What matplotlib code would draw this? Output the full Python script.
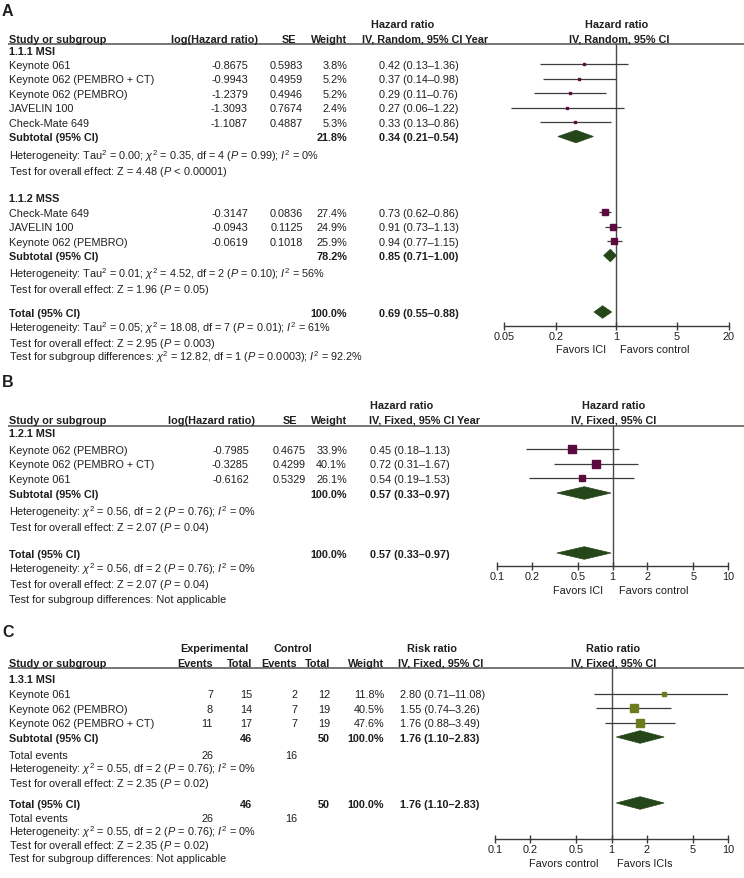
import matplotlib
matplotlib.use("Agg")
import matplotlib.pyplot as plt
from matplotlib.patches import Polygon
import numpy as np

plt.rcParams['font.family'] = ['Liberation Sans', 'DejaVu Sans']
plt.rcParams['mathtext.fontset'] = 'custom'
plt.rcParams['mathtext.rm'] = 'Liberation Sans'
plt.rcParams['mathtext.it'] = 'Liberation Sans:italic'
plt.rcParams['mathtext.bf'] = 'Liberation Sans:bold'

# ---------------- DATA ----------------
# Panel A
a_msi_studies = ["Keynote 061", "Keynote 062 (PEMBRO + CT)", "Keynote 062 (PEMBRO)", "JAVELIN 100", "Check-Mate 649"]
a_msi_loghr = [-0.8675, -0.9943, -1.2379, -1.3093, -1.1087]
a_msi_se = [0.5983, 0.4959, 0.4946, 0.7674, 0.4887]
a_msi_weight = [3.8, 5.2, 5.2, 2.4, 5.3]
a_msi_hr = [0.42, 0.37, 0.29, 0.27, 0.33]
a_msi_lo = [0.13, 0.14, 0.11, 0.06, 0.13]
a_msi_hi = [1.36, 0.98, 0.76, 1.22, 0.86]
a_msi_sub = [0.34, 0.21, 0.54]
a_msi_sub_weight = 21.8

a_mss_studies = ["Check-Mate 649", "JAVELIN 100", "Keynote 062 (PEMBRO)"]
a_mss_loghr = [-0.3147, -0.0943, -0.0619]
a_mss_se = [0.0836, 0.1125, 0.1018]
a_mss_weight = [27.4, 24.9, 25.9]
a_mss_hr = [0.73, 0.91, 0.94]
a_mss_lo = [0.62, 0.73, 0.77]
a_mss_hi = [0.86, 1.13, 1.15]
a_mss_sub = [0.85, 0.71, 1.00]
a_mss_sub_weight = 78.2
a_total = [0.69, 0.55, 0.88]
a_total_weight = 100.0
a_ticks = [0.05, 0.2, 1, 5, 20]
a_ticklabels = ["0.05", "0.2", "1", "5", "20"]

# Panel B
b_studies = ["Keynote 062 (PEMBRO)", "Keynote 062 (PEMBRO + CT)", "Keynote 061"]
b_loghr = [-0.7985, -0.3285, -0.6162]
b_se = [0.4675, 0.4299, 0.5329]
b_weight = [33.9, 40.1, 26.1]
b_hr = [0.45, 0.72, 0.54]
b_lo = [0.18, 0.31, 0.19]
b_hi = [1.13, 1.67, 1.53]
b_sub = [0.57, 0.33, 0.97]
b_total = [0.57, 0.33, 0.97]
b_ticks = [0.1, 0.2, 0.5, 1, 2, 5, 10]
b_ticklabels = ["0.1", "0.2", "0.5", "1", "2", "5", "10"]

# Panel C
c_studies = ["Keynote 061", "Keynote 062 (PEMBRO)", "Keynote 062 (PEMBRO + CT)"]
c_exp_events = [7, 8, 11]
c_exp_total = [15, 14, 17]
c_ctl_events = [2, 7, 7]
c_ctl_total = [12, 19, 19]
c_weight = [11.8, 40.5, 47.6]
c_rr = [2.80, 1.55, 1.76]
c_lo = [0.71, 0.74, 0.88]
c_hi = [11.08, 3.26, 3.49]
c_sub = [1.76, 1.10, 2.83]
c_total = [1.76, 1.10, 2.83]
c_sum_exp_total = 46
c_sum_ctl_total = 50
c_sum_exp_events = 26
c_sum_ctl_events = 16
c_ticks = [0.1, 0.2, 0.5, 1, 2, 5, 10]
c_ticklabels = ["0.1", "0.2", "0.5", "1", "2", "5", "10"]

# ---------------- STYLE ----------------
W, H = 744, 879
FS = 7.8
TXT = '#1e1e1e'
GRID = '#6a6a6a'
PURPLE = '#5b0b40'
OLIVE = '#6c7b1e'
DIAM = '#254619'
CICOL = '#3c3c3c'

fig = plt.figure(figsize=(W / 100, H / 100), dpi=100)
bg = fig.add_axes([0, 0, 1, 1])
bg.set_xlim(0, W)
bg.set_ylim(H, 0)
bg.axis('off')

BASE = 3.9  # offset from row centre to baseline


def T(x, y, s, ha='left', bold=False, size=FS):
    bg.text(x, y + BASE, s, ha=ha, va='baseline', fontsize=size,
            fontweight='bold' if bold else 'normal', color=TXT)


def hline(y):
    bg.plot([8, W], [y, y], color=GRID, lw=1.3, solid_capstyle='butt')


def ci(v):
    return f"{v[0]:.2f} ({v[1]:.2f}\u2013{v[2]:.2f})"


def forest(x0, x1, ytop, ybot, xlim, ticks, labels):
    ax = fig.add_axes([x0 / W, 1 - ybot / H, (x1 - x0) / W, (ybot - ytop) / H])
    ax.set_xscale('log')
    ax.set_xlim(*xlim)
    ax.set_ylim(ybot, ytop)
    ax.patch.set_alpha(0)
    for s in ['top', 'left', 'right']:
        ax.spines[s].set_visible(False)
    ax.spines['bottom'].set_color('#3a3a3a')
    ax.spines['bottom'].set_linewidth(1.0)
    ax.set_xticks(ticks)
    ax.set_xticklabels(labels)
    ax.xaxis.set_minor_locator(matplotlib.ticker.NullLocator())
    ax.tick_params(axis='x', direction='inout', length=6, width=1.0,
                   color='#3a3a3a', labelsize=FS, labelcolor=TXT, pad=0.8)
    ax.set_yticks([])
    ax.axvline(1, color='#4a4a4a', lw=1.0, zorder=1)
    return ax


def squares(ax, ys, est, lo, hi, w, color):
    for y, e, l, h, ww in zip(ys, est, lo, hi, w):
        ax.hlines(y, l, h, color=CICOL, lw=0.9, zorder=2)
        side = 1.3 * np.sqrt(ww)
        ax.plot([e], [y], marker='s', ms=side * 0.72, mfc=color, mec=color,
                ls='none', zorder=3)


def diamond(ax, y, v, hh=6.3):
    ax.add_patch(Polygon([[v[1], y], [v[0], y - hh], [v[2], y], [v[0], y + hh]],
                         closed=True, fc=DIAM, ec=DIAM, lw=0.5, zorder=3))


# ================= PANEL A =================
T(2, 12, "A", bold=True, size=11.5)
T(403, 24, "Hazard ratio", ha='center', bold=True)
T(617, 24, "Hazard ratio", ha='center', bold=True)
T(9, 39, "Study or subgroup", bold=True)
T(171, 39, "log(Hazard ratio)", bold=True)
T(296, 39, "SE", ha='right', bold=True)
T(347, 39, "Weight", ha='right', bold=True)
T(362, 39, "IV, Random, 95% CI Year", bold=True)
T(619, 39, "IV, Random, 95% CI", ha='center', bold=True)
hline(45)

T(9, 51, "1.1.1 MSI", bold=True)
a_msi_y = [65, 79.5, 94, 108.5, 123]
for y, n, l, s, w, h, lo_, hi_ in zip(a_msi_y, a_msi_studies, a_msi_loghr, a_msi_se,
                                      a_msi_weight, a_msi_hr, a_msi_lo, a_msi_hi):
    T(9, y, n)
    T(248, y, f"{l:.4f}", ha='right')
    T(303, y, f"{s:.4f}", ha='right')
    T(347, y, f"{w:.1f}%", ha='right')
    T(379, y, ci([h, lo_, hi_]))
T(9, 137.5, "Subtotal (95% CI)", bold=True)
T(347, 137.5, f"{a_msi_sub_weight:.1f}%", ha='right', bold=True)
T(379, 137.5, ci(a_msi_sub), bold=True)
T(9, 156, r"Heterogeneity: Tau$^2$ = 0.00; $\chi^2$ = 0.35, df = 4 ($P$ = 0.99); $I^2$ = 0%")
T(9, 171, r"Test for overall effect: Z = 4.48 ($P$ < 0.00001)")

T(9, 198, "1.1.2 MSS", bold=True)
a_mss_y = [213, 227.5, 242]
for y, n, l, s, w, h, lo_, hi_ in zip(a_mss_y, a_mss_studies, a_mss_loghr, a_mss_se,
                                      a_mss_weight, a_mss_hr, a_mss_lo, a_mss_hi):
    T(9, y, n)
    T(248, y, f"{l:.4f}", ha='right')
    T(303, y, f"{s:.4f}", ha='right')
    T(347, y, f"{w:.1f}%", ha='right')
    T(379, y, ci([h, lo_, hi_]))
T(9, 256.5, "Subtotal (95% CI)", bold=True)
T(347, 256.5, f"{a_mss_sub_weight:.1f}%", ha='right', bold=True)
T(379, 256.5, ci(a_mss_sub), bold=True)
T(9, 274.5, r"Heterogeneity: Tau$^2$ = 0.01; $\chi^2$ = 4.52, df = 2 ($P$ = 0.10); $I^2$ = 56%")
T(9, 289, r"Test for overall effect: Z = 1.96 ($P$ = 0.05)")

T(9, 313, "Total (95% CI)", bold=True)
T(347, 313, f"{a_total_weight:.1f}%", ha='right', bold=True)
T(379, 313, ci(a_total), bold=True)
T(9, 328, r"Heterogeneity: Tau$^2$ = 0.05; $\chi^2$ = 18.08, df = 7 ($P$ = 0.01); $I^2$ = 61%")
T(9, 343, r"Test for overall effect: Z = 2.95 ($P$ = 0.003)")
T(9, 357.5, r"Test for subgroup differences: $\chi^2$ = 12.82, df = 1 ($P$ = 0.0003); $I^2$ = 92.2%")

axA = forest(504, 729, 45, 327, (0.05, 20), a_ticks, a_ticklabels)
squares(axA, a_msi_y, a_msi_hr, a_msi_lo, a_msi_hi, a_msi_weight, PURPLE)
squares(axA, a_mss_y, a_mss_hr, a_mss_lo, a_mss_hi, a_mss_weight, PURPLE)
diamond(axA, 137.5, a_msi_sub)
diamond(axA, 256.5, a_mss_sub)
diamond(axA, 313, a_total)
T(581, 349, "Favors ICI", ha='center')
T(655, 349, "Favors control", ha='center')

# ================= PANEL B =================
T(2, 383, "B", bold=True, size=11.5)
T(402, 405, "Hazard ratio", ha='center', bold=True)
T(614, 405, "Hazard ratio", ha='center', bold=True)
T(9, 420, "Study or subgroup", bold=True)
T(168, 420, "log(Hazard ratio)", bold=True)
T(297, 420, "SE", ha='right', bold=True)
T(347, 420, "Weight", ha='right', bold=True)
T(369, 420, "IV, Fixed, 95% CI Year", bold=True)
T(614, 420, "IV, Fixed, 95% CI", ha='center', bold=True)
hline(427)

T(9, 433, "1.2.1 MSI", bold=True)
b_y = [450, 464.5, 479]
for y, n, l, s, w, h, lo_, hi_ in zip(b_y, b_studies, b_loghr, b_se, b_weight, b_hr, b_lo, b_hi):
    T(9, y, n)
    T(249, y, f"{l:.4f}", ha='right')
    T(306, y, f"{s:.4f}", ha='right')
    T(347, y, f"{w:.1f}%", ha='right')
    T(370, y, ci([h, lo_, hi_]))
T(9, 494, "Subtotal (95% CI)", bold=True)
T(347, 494, "100.0%", ha='right', bold=True)
T(370, 494, ci(b_sub), bold=True)
T(9, 512.5, r"Heterogeneity: $\chi^2$ = 0.56, df = 2 ($P$ = 0.76); $I^2$ = 0%")
T(9, 527, r"Test for overall effect: Z = 2.07 ($P$ = 0.04)")

T(9, 554, "Total (95% CI)", bold=True)
T(347, 554, "100.0%", ha='right', bold=True)
T(370, 554, ci(b_total), bold=True)
T(9, 569, r"Heterogeneity: $\chi^2$ = 0.56, df = 2 ($P$ = 0.76); $I^2$ = 0%")
T(9, 584, r"Test for overall effect: Z = 2.07 ($P$ = 0.04)")
T(9, 599, "Test for subgroup differences: Not applicable")

axB = forest(497, 728, 427, 567, (0.1, 10), b_ticks, b_ticklabels)
squares(axB, b_y, b_hr, b_lo, b_hi, b_weight, PURPLE)
diamond(axB, 494, b_sub)
diamond(axB, 554, b_total)
T(578, 590, "Favors ICI", ha='center')
T(654, 590, "Favors control", ha='center')

# ================= PANEL C =================
T(2, 633, "C", bold=True, size=11.5)
T(214, 648, "Experimental", ha='center', bold=True)
T(293, 648, "Control", ha='center', bold=True)
T(432, 648, "Risk ratio", ha='center', bold=True)
T(613, 648, "Ratio ratio", ha='center', bold=True)
T(9, 663, "Study or subgroup", bold=True)
T(213, 663, "Events", ha='right', bold=True)
T(252, 663, "Total", ha='right', bold=True)
T(297, 663, "Events", ha='right', bold=True)
T(330, 663, "Total", ha='right', bold=True)
T(384, 663, "Weight", ha='right', bold=True)
T(441, 663, "IV, Fixed, 95% CI", ha='center', bold=True)
T(614, 663, "IV, Fixed, 95% CI", ha='center', bold=True)
hline(669)

T(9, 679, "1.3.1 MSI", bold=True)
c_y = [694.5, 709, 723.5]
for y, n, e1, t1, e2, t2, w, r, lo_, hi_ in zip(c_y, c_studies, c_exp_events, c_exp_total,
                                                c_ctl_events, c_ctl_total, c_weight, c_rr, c_lo, c_hi):
    T(9, y, n)
    T(213, y, f"{e1}", ha='right')
    T(252, y, f"{t1}", ha='right')
    T(297, y, f"{e2}", ha='right')
    T(330, y, f"{t2}", ha='right')
    T(384, y, f"{w:.1f}%", ha='right')
    T(400, y, ci([r, lo_, hi_]))
T(9, 738, "Subtotal (95% CI)", bold=True)
T(252, 738, f"{c_sum_exp_total}", ha='right', bold=True)
T(330, 738, f"{c_sum_ctl_total}", ha='right', bold=True)
T(384, 738, "100.0%", ha='right', bold=True)
T(400, 738, ci(c_sub), bold=True)
T(9, 755, "Total events")
T(213, 755, f"{c_sum_exp_events}", ha='right')
T(297, 755, f"{c_sum_ctl_events}", ha='right')
T(9, 769, r"Heterogeneity: $\chi^2$ = 0.55, df = 2 ($P$ = 0.76); $I^2$ = 0%")
T(9, 783.5, r"Test for overall effect: Z = 2.35 ($P$ = 0.02)")

T(9, 804, "Total (95% CI)", bold=True)
T(252, 804, f"{c_sum_exp_total}", ha='right', bold=True)
T(330, 804, f"{c_sum_ctl_total}", ha='right', bold=True)
T(384, 804, "100.0%", ha='right', bold=True)
T(400, 804, ci(c_total), bold=True)
T(9, 818, "Total events")
T(213, 818, f"{c_sum_exp_events}", ha='right')
T(297, 818, f"{c_sum_ctl_events}", ha='right')
T(9, 832, r"Heterogeneity: $\chi^2$ = 0.55, df = 2 ($P$ = 0.76); $I^2$ = 0%")
T(9, 845, r"Test for overall effect: Z = 2.35 ($P$ = 0.02)")
T(9, 858, "Test for subgroup differences: Not applicable")

axC = forest(495, 728, 669, 840, (0.1, 10), c_ticks, c_ticklabels)
squares(axC, c_y, c_rr, c_lo, c_hi, c_weight, OLIVE)
diamond(axC, 738, c_sub)
diamond(axC, 804, c_total)
T(564, 863, "Favors control", ha='center')
T(645, 863, "Favors ICIs", ha='center')

fig.savefig("out.png", dpi=100)
